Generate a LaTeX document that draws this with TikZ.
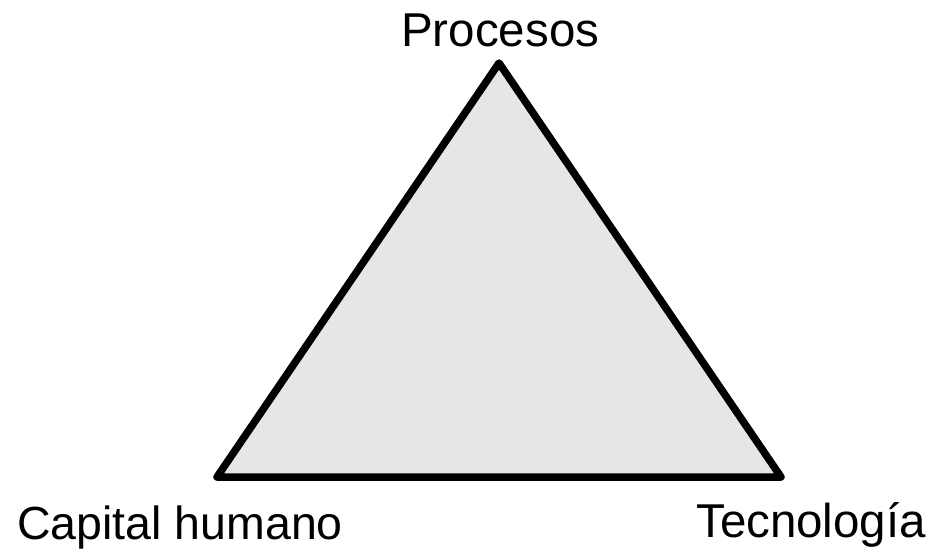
\documentclass[tikz,border=0pt]{standalone}
\usepackage{fontspec}
\setmainfont{Liberation Sans}
\definecolor{trifill}{HTML}{E6E6E6}
\begin{document}
\begin{tikzpicture}[x=1pt,y=-1pt,
  label/.style={inner sep=0pt,anchor=base west,font=\fontsize{46.5}{50}\selectfont},
  biglabel/.style={label,font=\fontsize{47.5}{50}\selectfont},
  side/.style={line width=7.5pt,line join=round,fill=trifill,draw=black}]
  \useasboundingbox (0,0) rectangle (938,550);
  % vertices of the triangle
  \coordinate (top) at (499,63);
  \coordinate (left) at (217,477);
  \coordinate (right) at (781,477);
  \filldraw[side] (top) -- (right) -- (left) -- cycle;
  % corner captions
  \node[biglabel] (procesos) at (401,46) {Procesos};
  \node[label] (capital) at (17,539) {Capital humano};
  \node[biglabel] (tecnologia) at (696,537) {Tecnología};
\end{tikzpicture}
\end{document}
